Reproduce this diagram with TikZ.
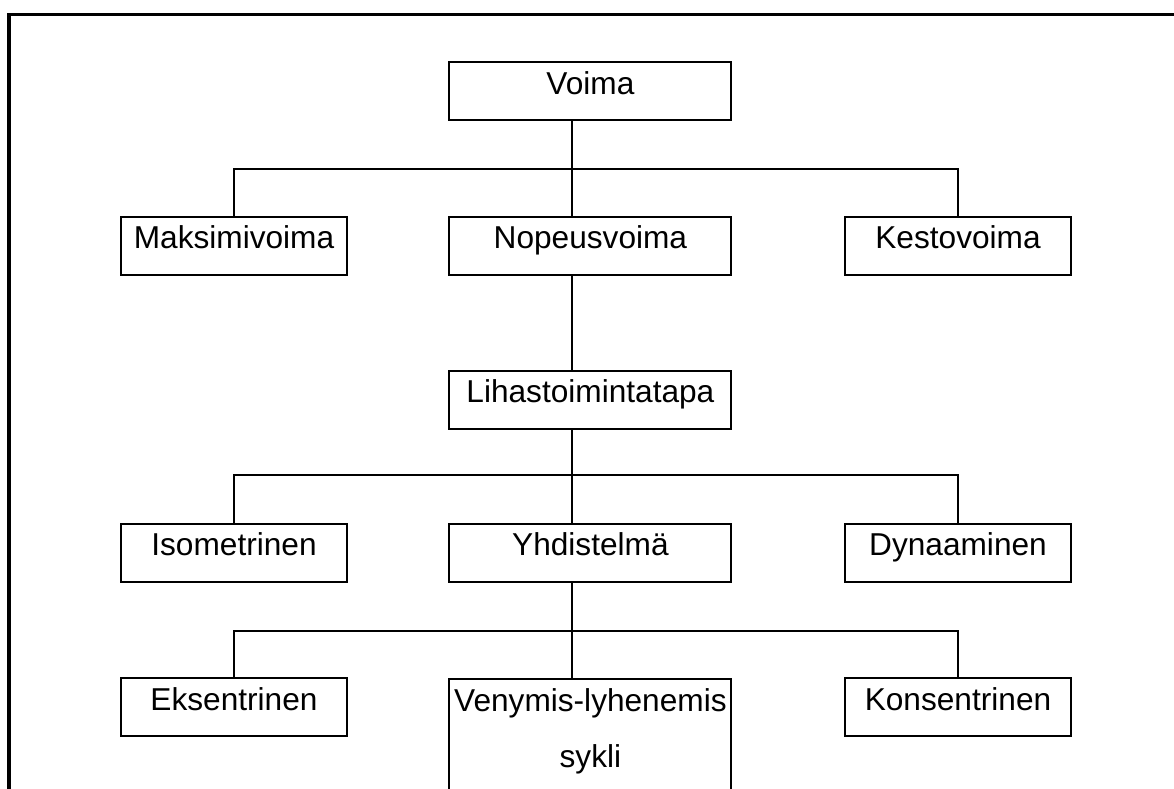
\documentclass[tikz,border=0pt]{standalone}
\usepackage{fontspec}
\setmainfont{Liberation Sans}
\usetikzlibrary{positioning}

\begin{document}
\begin{tikzpicture}[
  box/.style={draw, line width=1.4pt, rectangle, inner xsep=0pt, inner ysep=0pt,
    text height=0.8cm, text depth=0.65cm, font=\fontsize{22.5}{40.5}\selectfont},
  narrowbox/.style={box, minimum width=5.65cm},
  widebox/.style={box, minimum width=7.05cm},
  link/.style={line width=1.4pt}]
\clip (0,0) rectangle (29.35,19.725);

% Kehys
\draw[line width=2.3pt] (0.225,-1) -- (0.225,19.37) -- (30,19.37);

% Taso 0
\node[widebox] (voima) at (14.76,17.44) {Voima};

% Taso 1
\node[narrowbox] (maksimi) at (5.85,13.575) {Maksimivoima};
\node[widebox] (nopeus) at (14.76,13.575) {Nopeusvoima};
\node[narrowbox] (kesto) at (23.95,13.575) {Kestovoima};

% Taso 2
\node[widebox] (lihas) at (14.76,9.725) {Lihastoimintatapa};

% Taso 3
\node[narrowbox] (isometrinen) at (5.85,5.9) {Isometrinen};
\node[widebox] (yhdistelma) at (14.76,5.9) {Yhdistelmä};
\node[narrowbox] (dynaaminen) at (23.95,5.9) {Dynaaminen};

% Taso 4
\node[narrowbox] (eksentrinen) at (5.85,2.04) {Eksentrinen};
\node[widebox, align=center, anchor=north, text height=2.225cm, text depth=1cm]
  (venymis) at (14.76,2.775) {Venymis-lyhenemis\\sykli};
\node[narrowbox] (konsentrinen) at (23.95,2.04) {Konsentrinen};

% Yhteydet
\coordinate (bus1) at (14.3,15.5);
\coordinate (bus2) at (14.3,7.85);
\coordinate (bus3) at (14.3,3.95);
\draw[link] ([xshift=-0.46cm]voima.south) -- ([xshift=-0.46cm]nopeus.north);
\draw[link] (maksimi.north) |- (bus1) -| (kesto.north);
\draw[link] ([xshift=-0.46cm]nopeus.south) -- ([xshift=-0.46cm]lihas.north);
\draw[link] ([xshift=-0.46cm]lihas.south) -- ([xshift=-0.46cm]yhdistelma.north);
\draw[link] (isometrinen.north) |- (bus2) -| (dynaaminen.north);
\draw[link] ([xshift=-0.46cm]yhdistelma.south) -- ([xshift=-0.46cm]venymis.north);
\draw[link] (eksentrinen.north) |- (bus3) -| (konsentrinen.north);
\end{tikzpicture}
\end{document}
